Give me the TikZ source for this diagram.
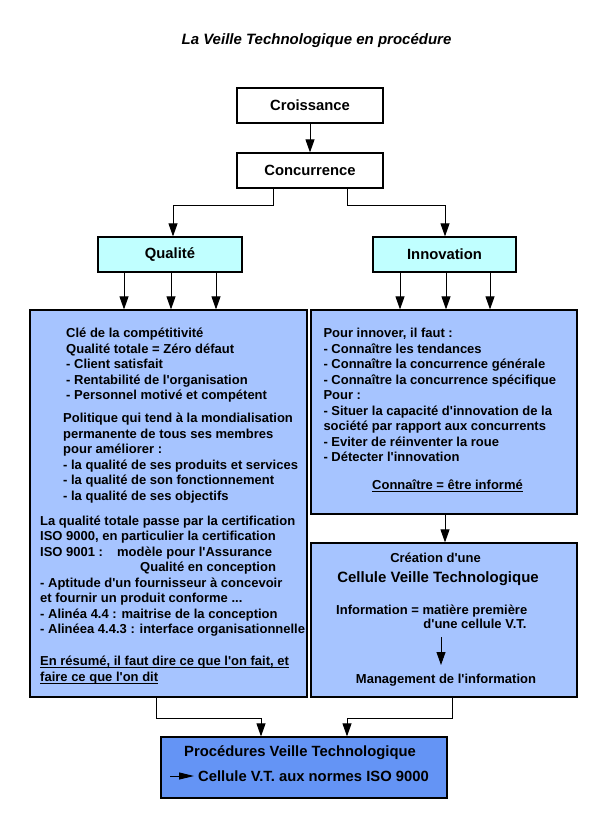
\documentclass[tikz,border=0pt]{standalone}
\usepackage{fontspec}
\setmainfont{Liberation Sans}
\usetikzlibrary{arrows.meta}
\definecolor{cyanfill}{RGB}{192,255,255}
\definecolor{bluefill}{RGB}{166,196,255}
\definecolor{procfill}{RGB}{100,148,245}
\newcommand{\bodyfont}{\fontsize{13}{15.5}\selectfont\bfseries}
\newcommand{\ap}{\textquotesingle}
\newcommand{\myul}[1]{\setbox0\hbox{#1}\rlap{\rule[-2.8pt]{\wd0}{0.9pt}}\box0}
\begin{document}
\begin{tikzpicture}[x=1pt,y=-1pt,
  hbox/.style={draw, line width=1.2pt, inner sep=0pt, font=\fontsize{14.8}{17}\selectfont\bfseries},
  bigbox/.style={draw, line width=1.2pt, fill=bluefill, inner sep=0pt},
  arr/.style={line width=0.9pt, -{Triangle[length=13pt,width=9pt]}},
  smallarr/.style={line width=0.9pt, -{Triangle[length=15pt,width=7pt]}},
  txt/.style={anchor=base west, inner sep=0pt, font=\bodyfont},
  ctxt/.style={anchor=base, inner sep=0pt, font=\bodyfont},
  bigtxt/.style={anchor=base, inner sep=0pt, font=\fontsize{14.8}{17}\selectfont\bfseries}]
\useasboundingbox (0,0) rectangle (600,813);
% title
\node[anchor=base, inner sep=0pt, font=\fontsize{15}{18}\selectfont\bfseries\itshape] (title) at (316.5,45) {La Veille Technologique en procédure};
% top boxes
\node[hbox, minimum width=146pt, minimum height=35pt] (croi) at (310,105.5) {Croissance};
\node[hbox, minimum width=146pt, minimum height=35pt] (conc) at (310,170.5) {Concurrence};
\node[hbox, fill=cyanfill, minimum width=144pt, minimum height=35pt] (qual) at (170,254.5) {Qualité};
\node[hbox, fill=cyanfill, minimum width=143pt, minimum height=35pt] (inno) at (444.5,254.5) {Innovation};
% big boxes
\node[bigbox, minimum width=277pt, minimum height=387pt] (left) at (168.5,503.5) {};
\node[bigbox, minimum width=266pt, minimum height=204pt] (rup) at (444,412) {};
\node[bigbox, minimum width=266pt, minimum height=154pt] (rlo) at (444,620) {};
\node[hbox, fill=procfill, minimum width=286pt, minimum height=61pt] (proc) at (304,767.5) {};
% connectors
\draw[arr] (croi) -- (conc);
\draw[arr] ([xshift=-37pt]conc.south) -- ++(0,17) -| ([xshift=3pt]qual.north);
\draw[arr] ([xshift=37pt]conc.south) -- ++(0,17) -| ([xshift=0.5pt]inno.north);
\foreach \dx in {-46,1,46}{
  \draw[arr] ([xshift=\dx pt]qual.south) -- ([xshift=\dx pt]qual.south |- left.north);
}
\foreach \dx in {-44.5,1.5,45.5}{
  \draw[arr] ([xshift=\dx pt]inno.south) -- ([xshift=\dx pt]inno.south |- rup.north);
}
\draw[arr] ([xshift=1pt]rup.south) -- ([xshift=1pt]rlo.north);
\draw[arr] ([xshift=-12.5pt]left.south) -- ++(0,21) -| ([xshift=-43pt]proc.north);
\draw[arr] ([xshift=8pt]rlo.south) -- ++(0,21) -| ([xshift=43pt]proc.north);
% left box text
\node[txt] (lb1) at (66,337.8) {\begin{tabular}[t]{@{}l@{}}Clé de la compétitivité\\Qualité totale = Zéro défaut\\- Client satisfait\\- Rentabilité de l\ap organisation\\- Personnel motivé et compétent\end{tabular}};
\node[txt] (lb2) at (63,422.8) {\begin{tabular}[t]{@{}l@{}}Politique qui tend à la mondialisation\\permanente de tous ses membres\\pour améliorer :\\- la qualité de ses produits et services\\- la qualité de son fonctionnement\\- la qualité de ses objectifs\end{tabular}};
\node[txt] (lb3) at (40,525.2) {\begin{tabular}[t]{@{}l@{}}La qualité totale passe par la certification\\ISO 9000, en particulier la certification\\\makebox[77pt][l]{ISO 9001 :}modèle pour l\ap Assurance\\\hspace*{100pt}Qualité en conception\\- Aptitude d\ap un fournisseur à concevoir\\et fournir un produit conforme ...\\- Alinéa 4.4 : maitrise de la conception\\- Alinéea 4.4.3 : interface organisationnelle\end{tabular}};
\node[txt] (lb4) at (40,665.2) {\begin{tabular}[t]{@{}l@{}}\myul{En résumé, il faut dire ce que l\ap on fait, et}\\[0.5pt]\myul{faire ce que l\ap on dit}\end{tabular}};
% right upper text
\node[txt] (ru1) at (323.3,337.8) {\begin{tabular}[t]{@{}l@{}}Pour innover, il faut :\\- Connaître les tendances\\- Connaître la concurrence générale\\- Connaître la concurrence spécifique\\Pour :\\- Situer la capacité d\ap innovation de la\\société par rapport aux concurrents\\- Eviter de réinventer la roue\\- Détecter l\ap innovation\end{tabular}};
\node[ctxt] (ru2) at (447.5,489.5) {\myul{Connaître = être informé}};
% right lower text
\node[ctxt] (crea) at (435.5,562.2) {Création d\ap une};
\node[anchor=base, inner sep=0pt, font=\fontsize{15}{18}\selectfont\bfseries] (cell) at (438,582.6) {Cellule Veille Technologique};
\node[txt] (info1) at (336,614.5) {Information = matière première};
\node[anchor=base east, inner sep=0pt, font=\bodyfont] (info2) at (526.7,628.5) {d\ap une cellule V.T.};
\coordinate (ia) at (441,637);
\coordinate (ib) at (441,665);
\draw[arr] (ia) -- (ib);
\node[ctxt] (mgmt) at (446,683.5) {Management de l\ap information};
% procedures text
\node[bigtxt] (p1) at (300,756.5) {Procédures Veille Technologique};
\node[anchor=base west, inner sep=0pt, font=\fontsize{14.8}{17}\selectfont\bfseries] (p2) at (198,781) {Cellule V.T. aux normes ISO 9000};
\coordinate (pa) at (170,776);
\coordinate (pb) at (194,776);
\draw[smallarr] (pa) -- (pb);
\end{tikzpicture}
\end{document}
